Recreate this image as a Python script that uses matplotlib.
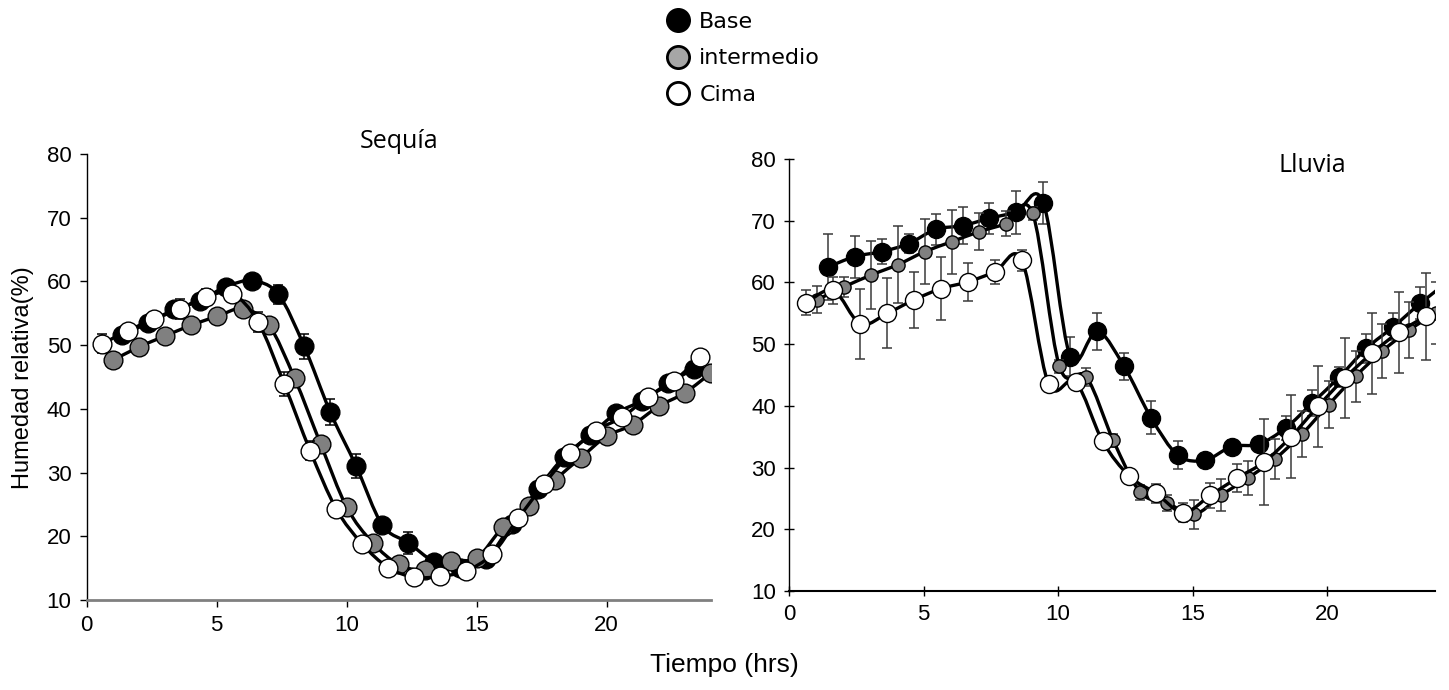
import numpy as np
import matplotlib
matplotlib.use("Agg")
import matplotlib.pyplot as plt
from matplotlib.path import Path
from matplotlib.patches import PathPatch
from matplotlib.lines import Line2D

# ---------------- DATA -------------------------------------------
# Sequia (left panel)
seq_base_x = [1.37, 2.37, 3.37, 4.37, 5.37, 6.37, 7.37, 8.37, 9.37, 10.37, 11.37, 12.37,
              13.37, 14.37, 15.37, 16.37, 17.37, 18.37, 19.37, 20.37, 21.37, 22.37, 23.37]
seq_base_y = [51.6, 53.5, 55.6, 57.0, 59.2, 60.1, 58.0, 49.8, 39.5, 31.0, 21.8, 19.0,
              16.0, 15.0, 16.5, 22.0, 27.5, 32.5, 35.9, 39.3, 41.3, 44.0, 46.3]
seq_base_e = [1.0, 1.0, 1.2, 1.0, 0.8, 0.8, 1.5, 2.0, 2.0, 1.9, 1.0, 1.7,
              1.0, 0.8, 0.8, 0.8, 0.8, 0.8, 0.8, 0.8, 0.8, 0.8, 1.0]

seq_int_x = list(range(1, 25))
seq_int_y = [47.6, 49.7, 51.4, 53.1, 54.5, 55.7, 53.2, 44.8, 34.5, 24.6, 19.0, 15.6,
             14.7, 16.2, 16.6, 21.4, 24.8, 28.8, 32.3, 35.7, 37.5, 40.4, 42.5, 45.6]
seq_int_e = [0.5] * 24

seq_cima_x = [0.6, 1.6, 2.6, 3.6, 4.6, 5.6, 6.6, 7.6, 8.6, 9.6, 10.6, 11.6,
              12.6, 13.6, 14.6, 15.6, 16.6, 17.6, 18.6, 19.6, 20.6, 21.6, 22.6, 23.6]
seq_cima_y = [50.2, 52.3, 54.1, 55.7, 57.6, 58.1, 53.6, 43.9, 33.4, 24.3, 18.8, 15.1,
              13.6, 13.7, 14.6, 17.2, 22.8, 28.2, 33.1, 36.6, 38.7, 41.9, 44.4, 48.2]
seq_cima_e = [1.5, 1.0, 1.0, 1.6, 1.2, 1.0, 1.6, 1.9, 1.5, 0.8, 0.6, 0.5,
              0.5, 0.5, 0.5, 0.5, 0.5, 0.5, 0.5, 0.5, 0.5, 0.5, 0.5, 1.0]

# Lluvia (right panel)
llu_base_x = [1.45, 2.45, 3.45, 4.45, 5.45, 6.45, 7.45, 8.45, 9.45, 10.45, 11.45, 12.45,
              13.45, 14.45, 15.45, 16.45, 17.45, 18.45, 19.45, 20.45, 21.45, 22.45, 23.45, 24.45]
llu_base_y = [62.5, 64.2, 65.0, 66.3, 68.6, 69.2, 70.4, 71.4, 72.9, 48.0, 52.1, 46.4,
              38.1, 32.0, 31.2, 33.4, 33.8, 36.4, 40.5, 44.7, 49.3, 52.8, 56.6, 60.0]
llu_base_e = [5.3, 3.4, 2.0, 1.5, 2.5, 3.0, 2.5, 3.5, 3.4, 3.1, 3.0, 2.2,
              2.7, 2.3, 1.0, 1.0, 1.0, 1.9, 2.1, 1.6, 2.3, 2.2, 2.6, 2.6]

llu_int_x = [1.05, 2.05, 3.05, 4.05, 5.05, 6.05, 7.05, 8.05, 9.05, 10.05, 11.05, 12.05,
             13.05, 14.05, 15.05, 16.05, 17.05, 18.05, 19.05, 20.05, 21.05, 22.05, 23.05, 24.05]
llu_int_y = [57.2, 59.3, 61.2, 62.9, 65.0, 66.6, 68.2, 69.5, 71.2, 46.4, 44.7, 34.4,
             26.0, 24.3, 22.4, 25.5, 28.3, 31.4, 35.4, 40.2, 44.8, 48.9, 52.3, 55.1]
llu_int_e = [2.2, 1.6, 5.5, 6.2, 5.3, 5.2, 3.0, 2.0, 1.0, 1.0, 1.4, 1.0,
             1.2, 1.3, 2.3, 2.6, 2.8, 3.2, 3.7, 3.8, 4.1, 4.4, 4.6, 5.0]

llu_cima_x = [0.65, 1.65, 2.65, 3.65, 4.65, 5.65, 6.65, 7.65, 8.65, 9.65, 10.65, 11.65,
              12.65, 13.65, 14.65, 15.65, 16.65, 17.65, 18.65, 19.65, 20.65, 21.65, 22.65, 23.65]
llu_cima_y = [56.7, 58.7, 53.3, 55.0, 57.2, 59.0, 60.1, 61.7, 63.6, 43.5, 43.9, 34.3,
              28.6, 25.8, 22.7, 25.5, 28.3, 30.9, 35.0, 39.9, 44.5, 48.5, 51.9, 54.5]
llu_cima_e = [2.0, 2.2, 5.7, 5.7, 4.5, 5.1, 3.1, 2.0, 1.7, 0.8, 1.0, 1.0,
              0.8, 1.5, 1.5, 2.0, 2.3, 6.9, 6.7, 6.6, 6.5, 6.6, 6.6, 7.0]

series_names = ["Base", "intermedio", "Cima"]

GRAY = "#808080"
LEG_GRAY = "#a6a6a6"


def smooth_path(x, y):
    """Excel-like smoothed line: Catmull-Rom segments drawn as cubic beziers."""
    pts = np.column_stack([x, y]).astype(float)
    n = len(pts)
    verts = [pts[0]]
    codes = [Path.MOVETO]
    for i in range(n - 1):
        p0 = pts[i - 1] if i > 0 else pts[i]
        p1 = pts[i]
        p2 = pts[i + 1]
        p3 = pts[i + 2] if i + 2 < n else pts[i + 1]
        verts += [p1 + (p2 - p0) / 6.0, p2 - (p3 - p1) / 6.0, p2]
        codes += [Path.CURVE4] * 3
    return Path(verts, codes)


def draw_series(ax, x, y, e, face, ms, z, ecol):
    ax.errorbar(x, y, yerr=e, fmt="none", ecolor=ecol, elinewidth=1.1,
                capsize=3.5, capthick=1.1, zorder=z)
    ax.add_patch(PathPatch(smooth_path(x, y), fill=False, lw=2.4,
                           ec="black", zorder=z + 0.1))
    ax.plot(x, y, ls="none", marker="o", ms=ms, mfc=face, mec="black",
            mew=1.0, zorder=z + 0.2)


fig = plt.figure(figsize=(14.49, 6.9), dpi=100)
ax1 = fig.add_axes([0.0598, 0.1304, 0.4306, 0.6464])
ax2 = fig.add_axes([0.5445, 0.1435, 0.4458, 0.626])

draw_series(ax1, seq_base_x, seq_base_y, seq_base_e, "black", 13.5, 2, "black")
draw_series(ax1, seq_int_x, seq_int_y, seq_int_e, GRAY, 13.5, 3, "black")
draw_series(ax1, seq_cima_x, seq_cima_y, seq_cima_e, "white", 13.5, 4, "black")

draw_series(ax2, llu_base_x, llu_base_y, llu_base_e, "black", 13.0, 2, "#3a3a3a")
draw_series(ax2, llu_int_x, llu_int_y, llu_int_e, GRAY, 9.5, 3, "#3a3a3a")
draw_series(ax2, llu_cima_x, llu_cima_y, llu_cima_e, "white", 13.0, 4, "#3a3a3a")

for ax in (ax1, ax2):
    ax.set_xlim(0, 24)
    ax.set_ylim(10, 80)
    ax.set_xticks([0, 5, 10, 15, 20])
    ax.set_yticks(range(10, 81, 10))
    ax.spines["top"].set_visible(False)
    ax.spines["right"].set_visible(False)
    ax.spines["left"].set_linewidth(1.0)
    for lab in ax.get_xticklabels() + ax.get_yticklabels():
        lab.set_fontfamily("Liberation Sans")
        lab.set_fontsize(16)
    ax.tick_params(length=5, width=1.0, pad=6)

ax1.spines["bottom"].set_color(GRAY)
ax1.spines["bottom"].set_linewidth(2.0)
ax1.tick_params(axis="x", direction="out")
ax2.spines["bottom"].set_linewidth(1.5)
ax2.tick_params(direction="inout", length=7)

ax1.set_title("Sequía", fontfamily="Open Sans", fontsize=18, pad=2)
ax2.text(0.81, 0.985, "Lluvia", transform=ax2.transAxes, ha="center", va="center",
         fontfamily="Open Sans", fontsize=18)

fig.text(0.008, 0.452, "Humedad relativa(%)", rotation=90, ha="left", va="center",
         fontfamily="Liberation Sans", fontsize=17)
fig.text(0.5, 0.036, "Tiempo (hrs)", ha="center", va="center",
         fontfamily="Liberation Sans", fontsize=19)

handles = [Line2D([], [], ls="none", marker="o", ms=16, mfc=c, mec="black", mew=2.0)
           for c in ("black", LEG_GRAY, "white")]
fig.legend(handles, series_names, loc="upper left", bbox_to_anchor=(0.4527, 0.999),
           frameon=False, handlelength=1.0, handletextpad=0.45, borderpad=0.0,
           labelspacing=0.75, prop={"family": "DejaVu Sans", "size": 16})

fig.savefig("out.png", dpi=100)
